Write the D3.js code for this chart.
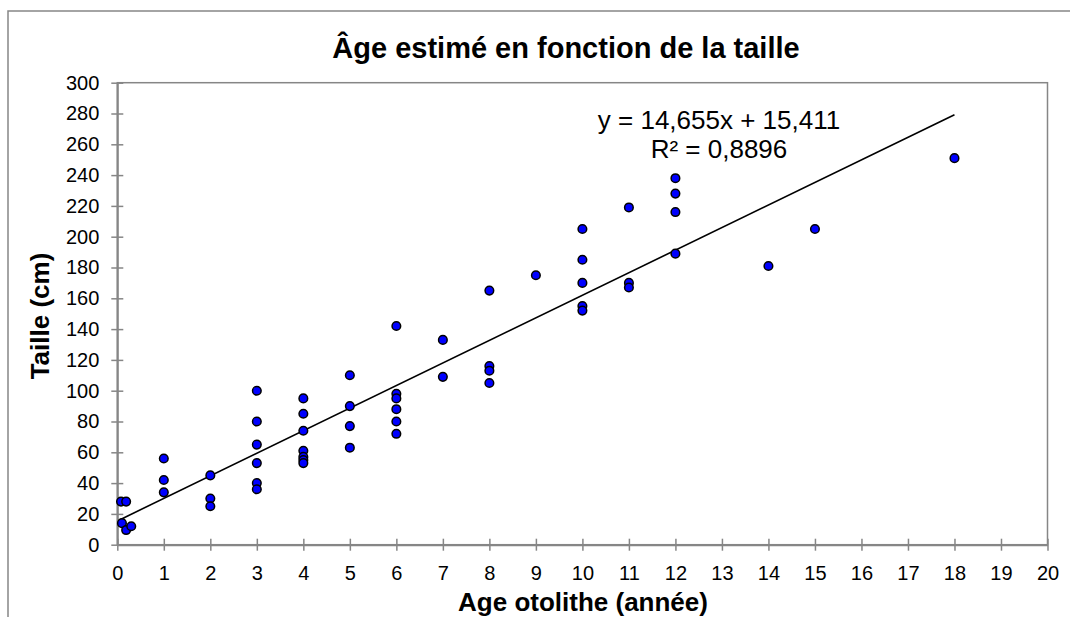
<!DOCTYPE html>
<html>
<head>
<meta charset="utf-8">
<script src="https://cdn.jsdelivr.net/npm/d3@7"></script>
<style>
  body { margin: 0; background: #fff; }
  svg { font-family: "Liberation Sans", Arial, sans-serif; }
</style>
</head>
<body>
<svg id="chart" width="1070" height="617"></svg>
<script>
// ages (x) and sizes (y) of each fish
var ages = [
    0.08, 0.19, 0.1, 0.19, 0.3,
    1, 1, 1,
    2, 2, 2,
    3, 3, 3, 3, 3, 3,
    4, 4, 4, 4, 4, 4, 4,
    5, 5, 5, 5,
    6, 6, 6, 6, 6, 6,
    7, 7,
    8, 8, 8, 8,
    9,
    10, 10, 10, 10, 10,
    11, 11, 11,
    12, 12, 12, 12,
    14, 15, 18
];
var sizes = [
    28, 28, 14, 9.5, 12,
    56, 42, 34,
    45, 30, 25,
    100, 80, 65, 53, 40, 36,
    95, 85, 74, 61, 57, 55, 53,
    110, 90, 77, 63,
    142, 98, 95, 88, 80, 72,
    133, 109,
    165, 116, 113, 105,
    175,
    205, 185, 170, 155, 152,
    219, 170, 167,
    238, 228, 216, 189,
    181, 205, 251
];
var xTicks = d3.range(0, 21, 1);
var yTicks = d3.range(0, 301, 20);

// trend line printed on the chart
var slope = 14.655;
var intercept = 15.411;
var eqLabel = "y = 14,655x + 15,411";
var r2Label = "R² = 0,8896";

var title = "Âge estimé en fonction de la taille";
var xTitle = "Age otolithe (année)";
var yTitle = "Taille (cm)";

var axisColor = "#868686";

const svg = d3.select("svg#chart");

// outer chart border (runs off the picture right and bottom)
svg.append("rect")
    .attr("x", 8).attr("y", 11)
    .attr("width", 1100).attr("height", 640)
    .attr("fill", "none")
    .attr("stroke", axisColor)
    .attr("stroke-width", 1.5);

let margin = { top: 82.7, left: 117.3, right: 22.5, bottom: 72.3 };
let plotWidth = 1070 - margin.left - margin.right;
let plotHeight = 617 - margin.top - margin.bottom;

let x = d3.scaleLinear().domain([0, 20]).range([0, plotWidth]);
let y = d3.scaleLinear().domain([0, 300]).range([plotHeight, 0]);

let plot = svg.append("g")
    .attr("transform", "translate(" + margin.left + "," + margin.top + ")");

// plot area border
plot.append("rect")
    .attr("width", plotWidth).attr("height", plotHeight)
    .attr("fill", "none")
    .attr("stroke", axisColor)
    .attr("stroke-width", 1.5);

// axes with crossing tick marks
let xAxis = plot.append("g")
    .attr("transform", "translate(0," + plotHeight + ")")
    .call(d3.axisBottom(x).tickValues(xTicks).tickSize(6).tickSizeOuter(0).tickFormat(d3.format("d")));
xAxis.selectAll(".tick line").attr("y1", -6);
xAxis.selectAll(".tick text").attr("dy", "0").attr("y", 35);

let yAxis = plot.append("g")
    .call(d3.axisLeft(y).tickValues(yTicks).tickSize(6).tickSizeOuter(0));
yAxis.selectAll(".tick line").attr("x1", 6);
yAxis.selectAll(".tick text").attr("x", -18);

[xAxis, yAxis].forEach(function(a) {
    a.select(".domain").attr("stroke", axisColor).attr("stroke-width", 2);
    a.selectAll(".tick line").attr("stroke", axisColor).attr("stroke-width", 1.5);
    a.selectAll(".tick text")
        .attr("fill", "#000")
        .style("font-size", "20px")
        .style("font-family", "'Liberation Sans', Arial, sans-serif");
});

// trend line over the data's x range
let xMin = d3.min(ages), xMax = d3.max(ages);
let line = d3.line()
    .x(function(d) { return x(d); })
    .y(function(d) { return y(intercept + slope * d); });
plot.append("path")
    .attr("d", line([xMin, xMax]))
    .attr("fill", "none")
    .attr("stroke", "#000")
    .attr("stroke-width", 1.6);

// points
plot.selectAll("circle.pt")
    .data(ages.map(function(a, i) { return { age: a, size: sizes[i] }; }))
    .enter()
    .append("circle")
    .attr("class", "pt")
    .attr("cx", function(d) { return x(d.age); })
    .attr("cy", function(d) { return y(d.size); })
    .attr("r", 4.3)
    .attr("fill", "#0000ff")
    .attr("stroke", "#000")
    .attr("stroke-width", 1.5);

// equation label
svg.append("text")
    .attr("x", 719).attr("y", 129)
    .attr("text-anchor", "middle")
    .style("font-size", "26px")
    .text(eqLabel);
svg.append("text")
    .attr("x", 719).attr("y", 158)
    .attr("text-anchor", "middle")
    .style("font-size", "26px")
    .text(r2Label);

// titles
svg.append("text")
    .attr("x", 566).attr("y", 58)
    .attr("text-anchor", "middle")
    .style("font-size", "29px")
    .style("font-weight", "bold")
    .text(title);

svg.append("text")
    .attr("x", 583).attr("y", 611)
    .attr("text-anchor", "middle")
    .style("font-size", "26px")
    .style("font-weight", "bold")
    .text(xTitle);

svg.append("text")
    .attr("transform", "translate(49,316) rotate(-90)")
    .attr("text-anchor", "middle")
    .style("font-size", "26px")
    .style("font-weight", "bold")
    .text(yTitle);
</script>
</body>
</html>
